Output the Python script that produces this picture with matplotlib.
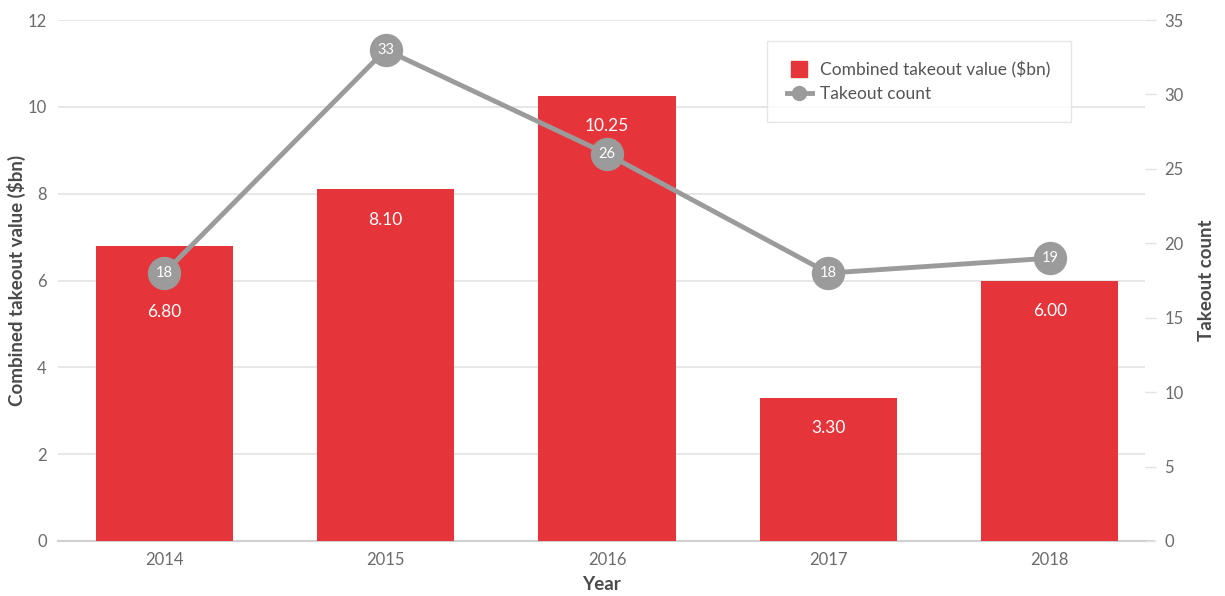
import matplotlib.pyplot as plt
from matplotlib.lines import Line2D

years = ["2014", "2015", "2016", "2017", "2018"]
takeout_value = [6.80, 8.10, 10.25, 3.30, 6.00]
takeout_count = [18, 33, 26, 18, 19]

bar_color = "#e5353b"
line_color = "#9b9b9b"
tick_color = "#6b6b6b"
label_color = "#4a4a4a"
grid_color = "#e3e3e3"

plt.rcParams["font.family"] = ["Lato", "DejaVu Sans"]

fig = plt.figure(figsize=(12.25, 5.96), dpi=100)
ax = fig.add_axes([0.0473, 0.0923, 0.8874, 0.8741])
ax2 = ax.twinx()

x = list(range(len(years)))
VMAX, CMAX = 12, 35

# bars with value labels inside; push a label down when the count marker sits on it
ax.bar(x, takeout_value, width=0.62, color=bar_color, zorder=2)
for xi, v, c in zip(x, takeout_value, takeout_count):
    ly = v - 0.7
    marker_y = c * VMAX / CMAX
    if abs(marker_y - ly) < 0.6:
        ly = marker_y - 0.9
    ax.text(xi, ly, f"{v:.2f}", ha="center", va="center",
            color="white", fontsize=12.5, zorder=3)

ax.set_ylim(0, VMAX)
ax.set_yticks(range(0, VMAX + 1, 2))
ax.set_xlim(-0.48, 4.43)
ax.set_xticks(x)
ax.set_xticklabels(years)
ax.yaxis.grid(True, color=grid_color, lw=1.2, zorder=0)
ax.set_axisbelow(True)
for s in ax.spines.values():
    s.set_visible(False)
ax.tick_params(axis="y", length=0, pad=8, labelsize=12, labelcolor=tick_color)
ax.tick_params(axis="x", length=0, pad=8, labelsize=12, labelcolor=tick_color)
ax.axhline(0, color="#d0d0d0", lw=1.5, zorder=1, xmax=1.008, clip_on=False)
ax.set_ylabel("Combined takeout value ($bn)", fontsize=13.5, fontweight="bold",
              color=label_color, labelpad=1)
ax.set_xlabel("Year", fontsize=13.5, fontweight="bold", color=label_color, labelpad=6)

# takeout count line on the right axis
ax2.plot(x, takeout_count, color=line_color, lw=3.5, marker="o", ms=23,
         zorder=4, solid_capstyle="round")
for xi, c in zip(x, takeout_count):
    ax2.text(xi, c, str(c), ha="center", va="center", color="white",
             fontsize=10.5, zorder=5)
ax2.set_ylim(0, CMAX)
ax2.set_yticks(range(0, CMAX + 1, 5))
for s in ax2.spines.values():
    s.set_visible(False)
ax2.tick_params(axis="y", length=8, width=1, color=grid_color, pad=6,
                labelsize=12, labelcolor=tick_color)
ax2.set_ylabel("Takeout count", fontsize=13.5, fontweight="bold",
               color=label_color, labelpad=10)

handles = [
    Line2D([0], [0], color=bar_color, marker="s", ls="none", ms=12),
    Line2D([0], [0], color=line_color, lw=3.5, marker="o", ms=10),
]
leg = ax2.legend(handles, ["Combined takeout value ($bn)", "Takeout count"],
                 loc="upper left", bbox_to_anchor=(0.6525, 0.959),
                 fontsize=12.5, frameon=True, fancybox=False,
                 borderpad=1.15, handlelength=1.4, labelspacing=0.45,
                 handletextpad=0.5, borderaxespad=0)
leg.get_frame().set_edgecolor("#e0e0e0")
leg.get_frame().set_linewidth(1)
for t in leg.get_texts():
    t.set_color("#555555")

fig.savefig("out.png", dpi=100)
